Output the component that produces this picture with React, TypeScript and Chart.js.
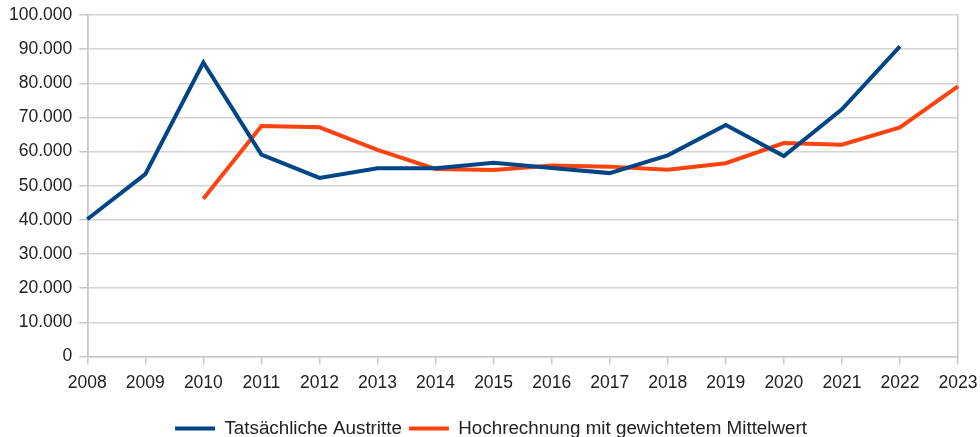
import React, { useEffect, useRef } from "react";
import { Chart, registerables } from "chart.js";

Chart.register(...registerables);

const years = ["2008","2009","2010","2011","2012","2013","2014","2015","2016","2017","2018","2019","2020","2021","2022","2023"];
const actual = [40200, 53400, 86100, 59100, 52300, 55100, 55100, 56700, 55200, 53700, 58900, 67800, 58700, 72400, 90800, null];
const projection = [null, null, 46200, 67500, 67100, 60500, 54900, 54600, 55900, 55600, 54700, 56600, 62500, 62000, 67100, 79100];
const seriesNames = ["Tatsächliche Austritte", "Hochrechnung mit gewichtetem Mittelwert"];
const colors = ["#004586", "#ff420e"];

const legendShift = {
  id: "legendShift",
  beforeInit(chart: any) {
    const legend = chart.legend;
    if (!legend) return;
    const orig = legend.fit;
    legend.fit = function () {
      orig.call(this);
      this.height -= 11;
    };
  },
};

export default function App() {
  const ref = useRef<HTMLCanvasElement>(null);
  useEffect(() => {
    document.body.style.margin = "0";
    const family = "'Liberation Sans', Arial, sans-serif";
    const axisFont = { family, size: 17.5 };
    const legendFont = { family, size: 18.8 };
    const chart = new Chart(ref.current!, {
      type: "line",
      data: {
        labels: years,
        datasets: [
          { label: seriesNames[0], data: actual, borderColor: colors[0], backgroundColor: colors[0], borderWidth: 4, pointRadius: 0, tension: 0, spanGaps: false },
          { label: seriesNames[1], data: projection, borderColor: colors[1], backgroundColor: colors[1], borderWidth: 4, pointRadius: 0, tension: 0, spanGaps: false },
        ],
      },
      plugins: [legendShift],
      options: {
        animation: false,
        responsive: false,
        layout: { padding: { left: 2, right: 0, top: 0, bottom: 0 } },
        plugins: {
          tooltip: { enabled: false },
          legend: {
            position: "bottom",
            title: { display: true, text: "", font: { size: 1 }, padding: { top: 9.5, bottom: 0 } },
            labels: {
              font: legendFont,
              color: "#222",
              boxWidth: 40,
              boxHeight: 4,
              padding: 7,
              generateLabels: (c: any) =>
                c.data.datasets.map((d: any, i: number) => ({
                  text: d.label,
                  fillStyle: d.borderColor,
                  strokeStyle: d.borderColor,
                  lineWidth: 0,
                  fontColor: "#222",
                  datasetIndex: i,
                  hidden: false,
                })),
            },
          },
        },
        scales: {
          x: {
            offset: false,
            afterFit: (s: any) => {
              s.paddingRight = 22;
            },
            grid: {
              color: (ctx: any) => (ctx.index === 0 || ctx.index === years.length - 1 ? "#c8c8c8" : "rgba(0,0,0,0)"),
              tickColor: "#c8c8c8",
              tickLength: 8,
              lineWidth: 1.5,
            },
            border: { color: "#c8c8c8", width: 1.5 },
            ticks: { font: axisFont, color: "#222", maxRotation: 0, autoSkip: false, padding: 8 },
          },
          y: {
            min: 0,
            max: 100000,
            afterFit: (s: any) => {
              s.paddingTop = 15;
            },
            grid: { color: "#d4d4d4", tickColor: "#c8c8c8", tickLength: 8, lineWidth: 1.5 },
            border: { color: "#c8c8c8", width: 1.5 },
            ticks: {
              stepSize: 10000,
              font: axisFont,
              color: "#222",
              padding: 7,
              callback: (v: any) => Number(v).toLocaleString("de-DE"),
            },
          },
        },
      },
    });
    return () => chart.destroy();
  }, []);
  return <canvas ref={ref} width={980} height={437} style={{ display: "block" }} />;
}
